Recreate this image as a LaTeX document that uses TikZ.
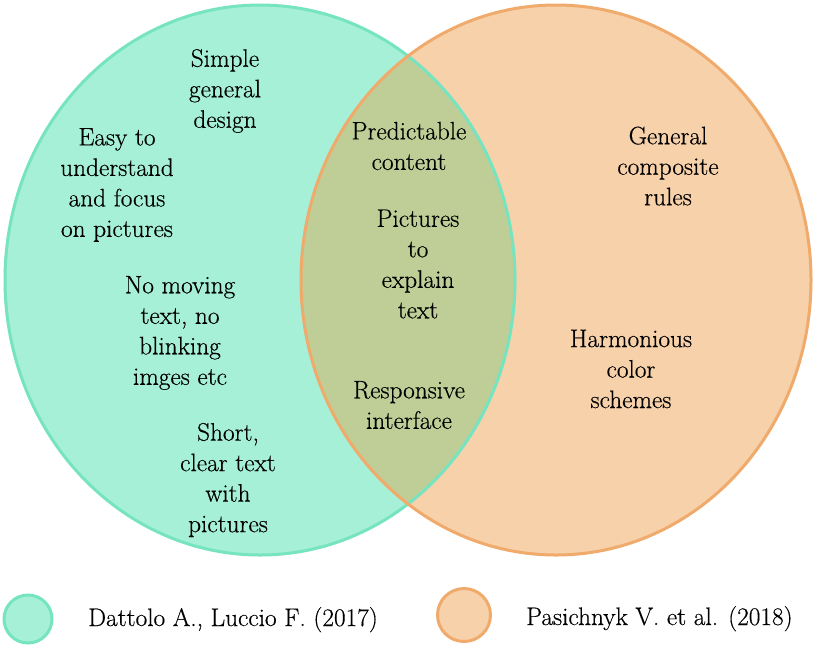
\documentclass[tikz,border=0pt]{standalone}
\usepackage{fontspec}
\newfontfamily\vnface{Latin Modern Roman}[FakeBold=0.4]
\definecolor{vnTeal}{RGB}{165,240,215}
\definecolor{vnTealLine}{RGB}{118,228,192}
\definecolor{vnPeach}{RGB}{246,209,170}
\definecolor{vnPeachLine}{RGB}{240,170,108}
\definecolor{vnBoth}{RGB}{190,206,150}

\begin{document}
\begin{tikzpicture}[
  x=1pt, y=-1pt,
  lbl/.style={align=center, font=\vnface\fontsize{25.3}{30.5}\selectfont, inner sep=0pt},
  key/.style={font=\vnface\fontsize{25.3}{30.5}\selectfont, anchor=base west, inner sep=0pt},
  dot/.style={circle, draw=#1Line, fill=#1, line width=3pt, inner sep=0pt},
  rim/.style={draw=#1, line width=3pt},
]
\useasboundingbox (0,0) rectangle (814,649);
% Both sets share one ellipse size; only the centres differ.
\def\rx{255}
\def\ry{275}
\coordinate (cA) at (260,280);
\coordinate (cB) at (556,280);

% ---------------- sets ----------------
\fill[vnTeal]  (cA) ellipse [x radius=\rx, y radius=\ry];
\fill[vnPeach] (cB) ellipse [x radius=\rx, y radius=\ry];
\begin{scope}
  \clip (cA) ellipse [x radius=\rx, y radius=\ry];
  \fill[vnBoth] (cB) ellipse [x radius=\rx, y radius=\ry];
\end{scope}
\draw[rim=vnTealLine]  (cA) ellipse [x radius=\rx, y radius=\ry];
\draw[rim=vnPeachLine] (cB) ellipse [x radius=\rx, y radius=\ry];

% ---------------- left only ----------------
\node[lbl] (simple) at (225,91)  {Simple\\general\\design};
\node[lbl] (easy)   at (117,185) {Easy to\\understand\\and focus\\on pictures};
\node[lbl] (moving) at (180,333) {No moving\\text, no\\blinking\\imges etc};
\node[lbl] (short)  at (228,480) {Short,\\clear text\\with\\pictures};

% ---------------- overlap ----------------
\node[lbl] (predict) at (409,146) {Predictable\\content};
\node[lbl] (explain) at (418,264) {Pictures\\to\\explain\\text};
\node[lbl] (respond) at (409,405) {Responsive\\interface};

% ---------------- right only ----------------
\node[lbl] (rules)  at (668,166) {General\\composite\\rules};
\node[lbl] (colors) at (631,369) {Harmonious\\color\\schemes};

% ---------------- legend ----------------
\node[dot=vnTeal,  minimum size=48] (keyA) at (28,619)  {};
\node[key] (keyAtxt) at (88,626)  {Dattolo A., Luccio F. (2017)};
\node[dot=vnPeach, minimum size=53] (keyB) at (464,615) {};
\node[key] (keyBtxt) at (526,625) {Pasichnyk V. et al. (2018)};
\end{tikzpicture}
\end{document}
